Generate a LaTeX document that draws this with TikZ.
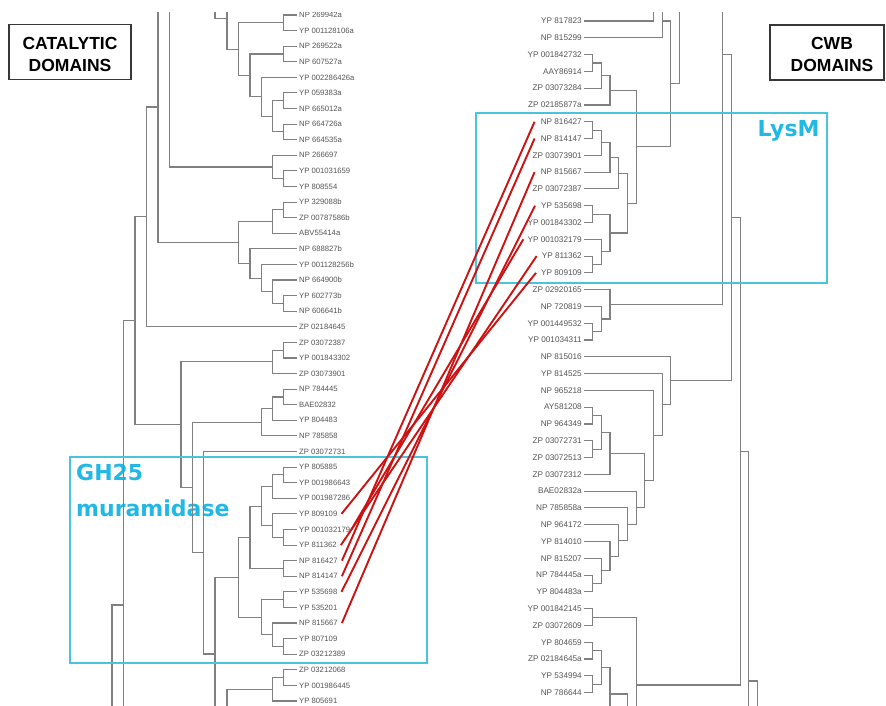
\documentclass[tikz,border=0pt]{standalone}
\usepackage{fontspec}
\setmainfont{Liberation Sans}
\newfontfamily\dejavu{DejaVu Sans}
\definecolor{treegray}{RGB}{128,128,128}
\definecolor{labgray}{RGB}{85,85,85}
\definecolor{boxcyan}{RGB}{72,196,220}
\definecolor{txtcyan}{RGB}{34,184,230}
\definecolor{linkred}{RGB}{204,18,18}
\definecolor{framegray}{RGB}{55,55,55}
\newcommand\tbrk[5]{\draw[treeline] (#1,#2) -| (#3,#5) -- (#4,#5);}
\begin{document}
\begin{tikzpicture}[x=1pt,y=-1pt,
  treeline/.style={draw=treegray,line width=1.1pt},
  llab/.style={anchor=west,inner xsep=2pt,inner ysep=0.5pt,text=labgray,font=\fontsize{7.7}{9}\selectfont},
  rlab/.style={anchor=east,inner xsep=2pt,inner ysep=0.5pt,text=labgray,font=\fontsize{8.2}{9}\selectfont},
  region/.style={draw=boxcyan,line width=1.8pt},
  regiontext/.style={text=txtcyan,font=\dejavu\bfseries\fontsize{22}{26}\selectfont,inner sep=0pt,anchor=base west},
  domainbox/.style={draw=framegray,line width=1.3pt,minimum height=55pt,inner sep=0pt},
  domaintext/.style={font=\bfseries\fontsize{17.5}{21.7}\selectfont,align=center,inner sep=0pt},
  link/.style={draw=linkred,line width=1.9pt}
]
\fill[white] (0,0) rectangle (886,706);
\useasboundingbox (0,0) rectangle (886,706);

% region titles
\node[regiontext] (gh) at (76,480) {GH25};
\node[regiontext] (mur) at (76,516.7) {muramidase};
\node[regiontext] (lysm) at (757.5,136.7) {LysM};

% domain boxes
\node[domainbox,minimum width=122pt] (catbox) at (70,51.7) {};
\node[domaintext] (cattext) at (70,54.6) {CATALYTIC\\DOMAINS};
\node[domainbox,minimum width=114pt] (cwbbox) at (827,52.5) {};
\node[domaintext] (cwbtext) at (832,54.2) {CWB\\DOMAINS};

\begin{scope}
\clip (0,13) rectangle (886,706);
% leaf labels
\foreach \t [count=\i from 0] in {NP 269942a, YP 001128106a, NP 269522a, NP 607527a, YP 002286426a, YP 059383a, NP 665012a, NP 664726a, NP 664535a, NP 266697, YP 001031659, YP 808554, YP 329088b, ZP 00787586b, ABV55414a, NP 688827b, YP 001128256b, NP 664900b, YP 602773b, NP 606641b, ZP 02184645, ZP 03072387, YP 001843302, ZP 03073901, NP 784445, BAE02832, YP 804483, NP 785858, ZP 03072731, YP 805885, YP 001986643, YP 001987286, YP 809109, YP 001032179, YP 811362, NP 816427, NP 814147, YP 535698, YP 535201, NP 815667, YP 807109, ZP 03212389, ZP 03212068, YP 001986445, YP 805691}
  \node[llab] (l\i) at (297,{15+15.59*\i}) {\t};
\foreach \t [count=\i from 0] in {YP 817823, NP 815299, YP 001842732, AAY86914, ZP 03073284, ZP 02185877a, NP 816427, NP 814147, ZP 03073901, NP 815667, ZP 03072387, YP 535698, YP 001843302, YP 001032179, YP 811362, YP 809109, ZP 02920165, NP 720819, YP 001449532, YP 001034311, NP 815016, YP 814525, NP 965218, AY581208, NP 964349, ZP 03072731, ZP 03072513, ZP 03072312, BAE02832a, NP 785858a, NP 964172, YP 814010, NP 815207, NP 784445a, YP 804483a, YP 001842145, ZP 03072609, YP 804659, ZP 02184645a, YP 534994, NP 786644}
  \node[rlab] (r\i) at (584,{21+16.79*\i}) {\t};

% left tree
\tbrk{297}{15}{283.5}{297}{30.6}
\tbrk{297}{46.2}{283.5}{297}{61.8}
\tbrk{297}{92.95}{283.5}{297}{108.5}
\tbrk{297}{124.1}{283.5}{297}{139.7}
\tbrk{283.5}{100.7}{272.5}{283.5}{131.9}
\tbrk{297}{77.4}{261.5}{272.5}{116.3}
\tbrk{283.5}{54}{250}{261.5}{96.9}
\tbrk{283.5}{22.8}{238.5}{250}{75.4}
\draw[treeline] (227,10) |- (238.5,49.1);
\draw[treeline] (215,10) |- (227,18.3);
\tbrk{297}{170.9}{283.5}{297}{186.5}
\tbrk{297}{155.3}{272.5}{283.5}{178.7}
\draw[treeline] (169.5,10) |- (272.5,167);
\tbrk{297}{202.1}{283.5}{297}{217.7}
\tbrk{283.5}{209.9}{272.5}{297}{233.3}
\tbrk{297}{295.6}{283.5}{297}{311.2}
\tbrk{297}{280}{272.5}{283.5}{303.4}
\tbrk{297}{264.4}{261.5}{272.5}{291.7}
\tbrk{297}{248.9}{250}{261.5}{278.1}
\tbrk{272.5}{221.6}{238.5}{250}{263.5}
\draw[treeline] (158,10) |- (238.5,242.6);
\tbrk{158}{107}{146.5}{297}{326.8}
\tbrk{297}{342.4}{283.5}{297}{358}
\tbrk{283.5}{350.2}{272.5}{297}{373.6}
\tbrk{297}{389.2}{283.5}{297}{404.8}
\tbrk{283.5}{397}{272.5}{297}{420.3}
\tbrk{272.5}{408.7}{261.5}{297}{435.9}
\tbrk{297}{467.1}{283.5}{297}{482.7}
\tbrk{283.5}{474.9}{272.5}{297}{498.3}
\tbrk{297}{529.5}{283.5}{297}{545.1}
\tbrk{297}{513.9}{272.5}{283.5}{537.3}
\tbrk{272.5}{486.6}{261.5}{272.5}{525.6}
\tbrk{297}{560.7}{283.5}{297}{576.2}
\tbrk{261.5}{506.1}{250}{283.5}{568.5}
\tbrk{297}{591.8}{283.5}{297}{607.4}
\tbrk{297}{638.6}{283.5}{297}{654.2}
\tbrk{297}{623}{272.5}{283.5}{646.4}
\tbrk{283.5}{599.6}{261.5}{272.5}{634.7}
\tbrk{250}{537.3}{238.5}{261.5}{617.2}
\draw[treeline] (238.5,577.2) -| (215,710);
\tbrk{297}{451.5}{203.5}{215}{654}
\tbrk{261.5}{422.3}{192.5}{203.5}{552.8}
\tbrk{272.5}{361.9}{181}{192.5}{487.5}
\tbrk{146.5}{216.9}{135}{181}{424.7}
\draw[treeline] (135,320.8) -| (123.5,710);
\draw[treeline] (123.5,605) -| (112,710);
\tbrk{297}{669.8}{283.5}{297}{685.4}
\tbrk{283.5}{677.6}{272.5}{297}{701}
\draw[treeline] (272.5,689.3) -| (227,710);

% right tree
\draw[treeline] (584,21) -| (653.4,10);
\draw[treeline] (584,37.8) -| (662.1,10);
\tbrk{584}{54.6}{592.7}{584}{71.4}
\tbrk{592.7}{63}{601.4}{584}{88.2}
\tbrk{601.4}{75.6}{610}{584}{105}
\tbrk{584}{121.7}{592.7}{584}{138.5}
\tbrk{592.7}{130.1}{601.4}{584}{155.3}
\tbrk{601.4}{142.7}{610}{584}{172.1}
\tbrk{610}{157.4}{618.7}{584}{188.9}
\tbrk{584}{205.7}{592.7}{584}{222.5}
\tbrk{584}{256.1}{592.7}{584}{272.9}
\tbrk{584}{239.3}{601.4}{592.7}{264.5}
\tbrk{592.7}{214.1}{610}{601.4}{251.9}
\tbrk{618.7}{173.2}{627.4}{610}{233}
\tbrk{610}{90.3}{636.1}{627.4}{203.1}
\tbrk{662.1}{21}{670.8}{636.1}{146.7}
\draw[treeline] (670.8,83.9) -| (679.5,10);
\tbrk{584}{323.2}{592.7}{584}{340}
\tbrk{584}{306.4}{601.4}{592.7}{331.6}
\tbrk{584}{289.6}{610}{601.4}{319}
\draw[treeline] (610,304.3) -| (722.9,10);
\tbrk{584}{407.2}{592.7}{584}{424}
\tbrk{584}{440.8}{592.7}{584}{457.5}
\tbrk{592.7}{415.6}{601.4}{592.7}{449.2}
\tbrk{601.4}{432.4}{610}{584}{474.3}
\tbrk{584}{575.1}{592.7}{584}{591.9}
\tbrk{584}{558.3}{601.4}{592.7}{583.5}
\tbrk{584}{541.5}{610}{601.4}{570.9}
\tbrk{584}{524.7}{618.7}{610}{556.2}
\tbrk{584}{507.9}{627.4}{618.7}{540.5}
\tbrk{584}{491.1}{636.1}{627.4}{524.2}
\tbrk{610}{453.4}{644.8}{636.1}{507.7}
\tbrk{584}{390.4}{653.4}{644.8}{480.5}
\tbrk{584}{373.6}{662.1}{653.4}{435.5}
\tbrk{584}{356.8}{670.8}{662.1}{404.5}
\tbrk{722.9}{54.3}{731.6}{670.8}{380.7}
\tbrk{584}{608.7}{592.7}{584}{625.4}
\draw[treeline] (592.7,617.1) -| (636.1,710);
\tbrk{584}{642.2}{592.7}{584}{659}
\tbrk{584}{675.8}{592.7}{584}{692.6}
\tbrk{592.7}{650.6}{601.4}{592.7}{684.2}
\draw[treeline] (601.4,667.4) -| (610,710);
\draw[treeline] (610,694) -| (627.4,710);
\tbrk{731.6}{217.5}{740.2}{636.1}{685}
\draw[treeline] (740.2,451.2) -| (748.9,710);
\draw[treeline] (748.9,681) -| (757.6,710);
\end{scope}

% highlighted regions
\draw[region] (70,456.7) rectangle (426.7,663.3);
\draw[region] (476,113.3) rectangle (826.7,283.3);

% links between shared sequences
\draw[link] ([xshift=2pt]l32.east) -- ([xshift=-3pt]r15.west);
\draw[link] ([xshift=-1pt]l33.east) -- ([xshift=-2pt]r13.west);
\draw[link] ([xshift=2pt]l34.east) -- ([xshift=-3pt]r14.west);
\draw[link] ([xshift=2pt]l35.east) -- ([xshift=-4pt]r6.west);
\draw[link] ([xshift=2pt]l36.east) -- ([xshift=-4pt]r7.west);
\draw[link] ([xshift=2pt]l37.east) -- ([xshift=-4pt]r11.west);
\draw[link] ([xshift=2pt]l39.east) -- ([xshift=-4pt]r9.west);
\end{tikzpicture}
\end{document}
